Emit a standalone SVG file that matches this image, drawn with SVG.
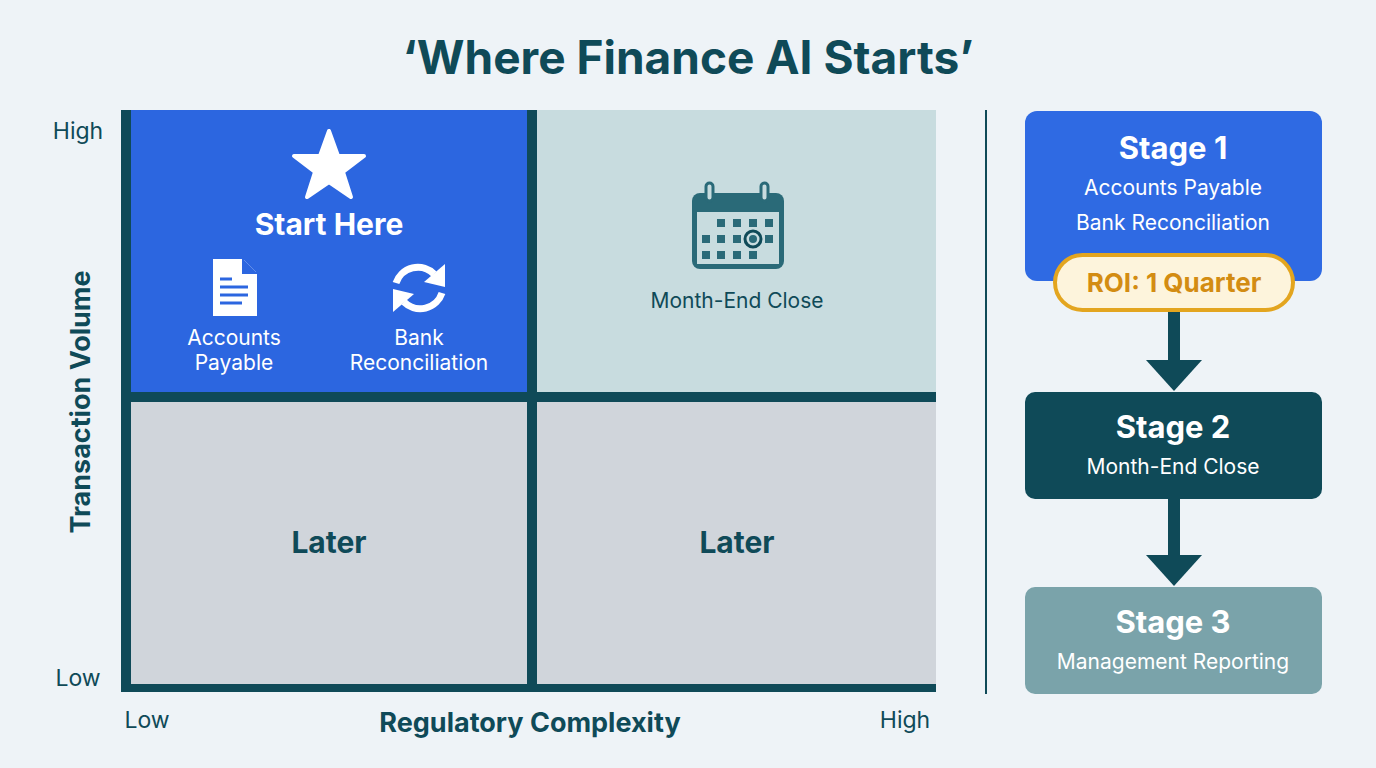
<svg xmlns="http://www.w3.org/2000/svg" width="1376" height="768" viewBox="0 0 1376 768">
<style>
text{font-family:Inter,"Liberation Sans",sans-serif;}
.w{fill:#fff}.d{fill:#0f4a58}
.b{font-weight:700}
</style>
<rect width="1376" height="768" fill="#eef3f7"/>
<text x="688" y="74" text-anchor="middle" class="d b" font-size="46">‘Where Finance AI Starts’</text>
<g id="matrix">
<rect x="121" y="110" width="815" height="582" fill="#0f4a58"/>
<rect id="q-tl" x="131" y="110" width="396" height="282" fill="#2c66e0"/>
<rect id="q-tr" x="537" y="110" width="399" height="282" fill="#c8dcdf"/>
<rect id="q-bl" x="131" y="402" width="396" height="282" fill="#d0d5db"/>
<rect id="q-br" x="537" y="402" width="399" height="282" fill="#d0d5db"/>
</g>
<g id="start">
<polygon points="329,131 338,156 364,156 343,172 351,197 329,182 307,197 315,172 294,156 320,156" fill="#fff" stroke="#fff" stroke-width="4" stroke-linejoin="round"/>
<text x="329" y="235" text-anchor="middle" class="w b" font-size="30">Start Here</text>
<path d="M213,259 h30 l14,14 v43 h-44 z" fill="#fff"/>
<path d="M243,259 v14 h14" fill="#2c66e0" stroke="#2c66e0" stroke-width="2"/>
<path d="M220,279 h12 M220,287 h28 M220,295 h28 M220,303 h22" stroke="#2c66e0" stroke-width="3"/>
<text x="234" y="345" text-anchor="middle" class="w" font-size="21">Accounts</text>
<text x="234" y="370" text-anchor="middle" class="w" font-size="21">Payable</text>
<path d="M396,283 A23,23 0 0 1 434,274" fill="none" stroke="#fff" stroke-width="7"/>
<polygon points="445,264 445,287 424,282" fill="#fff"/>
<path d="M442,293 A23,23 0 0 1 404,302" fill="none" stroke="#fff" stroke-width="7"/>
<polygon points="393,312 393,289 414,294" fill="#fff"/>
<text x="419" y="345" text-anchor="middle" class="w" font-size="21">Bank</text>
<text x="419" y="370" text-anchor="middle" class="w" font-size="21">Reconciliation</text>
</g>
<g id="month-end">
<rect x="692" y="193" width="92" height="76" rx="8" fill="#2a6a78"/>
<rect x="697" y="212" width="82" height="52" fill="#c8dcdf"/>
<rect x="706" y="183" width="7" height="18" rx="3.5" fill="#c8dcdf" stroke="#2a6a78" stroke-width="3"/>
<rect x="761" y="183" width="7" height="18" rx="3.5" fill="#c8dcdf" stroke="#2a6a78" stroke-width="3"/>
<g fill="#2a6a78">
<rect x="717" y="219" width="8" height="8"/><rect x="733" y="219" width="8" height="8"/><rect x="749" y="219" width="8" height="8"/><rect x="765" y="219" width="8" height="8"/>
<rect x="702" y="235" width="8" height="8"/><rect x="717" y="235" width="8" height="8"/><rect x="733" y="235" width="8" height="8"/><rect x="765" y="235" width="8" height="8"/>
<rect x="702" y="251" width="8" height="8"/><rect x="717" y="251" width="8" height="8"/><rect x="733" y="251" width="8" height="8"/><rect x="749" y="251" width="8" height="8"/>
</g>
<circle cx="753" cy="239" r="8" fill="none" stroke="#0f4a58" stroke-width="3"/>
<circle cx="753" cy="239" r="4" fill="#2a6a78"/>
<text x="737" y="308" text-anchor="middle" class="d" font-size="21">Month-End Close</text>
</g>
<text x="329" y="553" text-anchor="middle" class="d b" font-size="30">Later</text>
<text x="737" y="553" text-anchor="middle" class="d b" font-size="30">Later</text>
<g id="axes" class="d">
<text x="78" y="139" text-anchor="middle" font-size="23">High</text>
<text x="78" y="686" text-anchor="middle" font-size="23">Low</text>
<text x="147" y="728" text-anchor="middle" font-size="23">Low</text>
<text x="905" y="728" text-anchor="middle" font-size="23">High</text>
<text x="530" y="732" text-anchor="middle" class="b" font-size="27">Regulatory Complexity</text>
<text transform="translate(90,402) rotate(-90)" text-anchor="middle" class="b" font-size="27">Transaction Volume</text>
</g>
<line x1="986" y1="110" x2="986" y2="694" stroke="#0f4a58" stroke-width="2"/>
<g id="connectors" fill="#0f4a58">
<rect x="1168" y="308" width="12" height="54"/><polygon points="1146,360 1202,360 1174,391"/>
<rect x="1168" y="497" width="12" height="60"/><polygon points="1146,555 1202,555 1174,586"/>
</g>
<g id="stage1">
<rect x="1025" y="111" width="297" height="170" rx="12" fill="#2f6ae3"/>
<text x="1173" y="159" text-anchor="middle" class="w b" font-size="31">Stage 1</text>
<text x="1173" y="195" text-anchor="middle" class="w" font-size="21">Accounts Payable</text>
<text x="1173" y="230" text-anchor="middle" class="w" font-size="21">Bank Reconciliation</text>
</g>
<g id="roi">
<rect x="1055" y="255" width="238" height="55" rx="27.5" fill="#fdf4dc" stroke="#e3a51f" stroke-width="4"/>
<text x="1174" y="292" text-anchor="middle" class="b" font-size="26" fill="#d38c12">ROI: 1 Quarter</text>
</g>
<g id="stage2">
<rect x="1025" y="392" width="297" height="107" rx="10" fill="#0f4a58"/>
<text x="1173" y="438" text-anchor="middle" class="w b" font-size="31">Stage 2</text>
<text x="1173" y="474" text-anchor="middle" class="w" font-size="21">Month-End Close</text>
</g>
<g id="stage3">
<rect x="1025" y="587" width="297" height="107" rx="10" fill="#7aa3aa"/>
<text x="1173" y="633" text-anchor="middle" class="w b" font-size="31">Stage 3</text>
<text x="1173" y="669" text-anchor="middle" class="w" font-size="21">Management Reporting</text>
</g>
</svg>
